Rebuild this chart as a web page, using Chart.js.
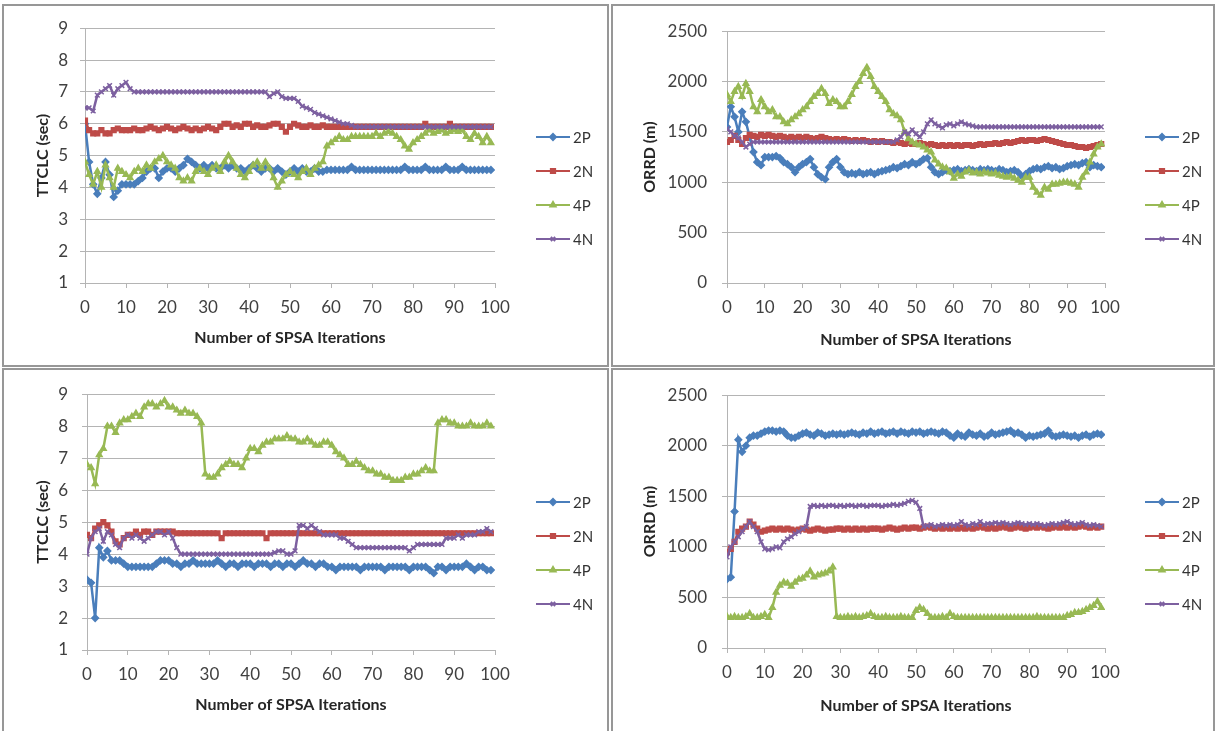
<!DOCTYPE html>
<html>
<head>
<meta charset="utf-8">
<script src="https://cdn.jsdelivr.net/npm/chart.js@4.4.1/dist/chart.umd.min.js"></script>
<style>
  body { margin: 0; background: #fff; width: 1217px; height: 731px; position: relative; overflow: hidden; }
  .frame { position: absolute; border: 2px solid #979797; box-sizing: border-box; }
  .box { position: absolute; }
</style>
</head>
<body>
<div class="frame" style="left:2px;top:4px;width:607px;height:363px"></div>
<div class="frame" style="left:611px;top:4px;width:604px;height:363px"></div>
<div class="frame" style="left:2px;top:368px;width:607px;height:366px"></div>
<div class="frame" style="left:611px;top:368px;width:604px;height:366px"></div>

<div class="box" style="left:4px;top:6px"><canvas id="ttclcTop" width="603" height="359"></canvas></div>
<div class="box" style="left:613px;top:6px"><canvas id="orrdTop" width="600" height="359"></canvas></div>
<div class="box" style="left:4px;top:370px"><canvas id="ttclcBottom" width="603" height="359"></canvas></div>
<div class="box" style="left:613px;top:370px"><canvas id="orrdBottom" width="600" height="359"></canvas></div>

<script>
"use strict";

// iterations 0..99
const iterations = Array.from({ length: 100 }, (_, i) => i);
const seriesNames = ["2P", "2N", "4P", "4N"];
const seriesColors = ["#4a7ebb", "#be4b48", "#98b954", "#7d60a0"];
const seriesMarkers = ["rectRot", "rect", "triangle", "crossRot"];

const xTicks = [0, 10, 20, 30, 40, 50, 60, 70, 80, 90, 100];
const ttclcTicks = [1, 2, 3, 4, 5, 6, 7, 8, 9];
const orrdTicks = [0, 500, 1000, 1500, 2000, 2500];

// top left: TTCLC
const ttclcTop2P = [
  6.0, 4.8, 4.1, 3.8, 4.3, 4.8, 4.4, 3.7, 3.9, 4.1,
  4.1, 4.1, 4.1, 4.2, 4.3, 4.5, 4.6, 4.6, 4.3, 4.5,
  4.6, 4.6, 4.5, 4.6, 4.7, 4.9, 4.8, 4.7, 4.6, 4.7,
  4.6, 4.7, 4.6, 4.6, 4.7, 4.6, 4.7, 4.6, 4.6, 4.5,
  4.6, 4.7, 4.6, 4.5, 4.6, 4.6, 4.5, 4.6, 4.5, 4.4,
  4.5, 4.6, 4.5, 4.6, 4.5, 4.5, 4.6, 4.5, 4.5, 4.55,
  4.55, 4.55, 4.55, 4.55, 4.55, 4.65, 4.55, 4.55, 4.55, 4.55,
  4.55, 4.55, 4.55, 4.55, 4.55, 4.55, 4.55, 4.55, 4.65, 4.55,
  4.55, 4.55, 4.55, 4.65, 4.55, 4.55, 4.55, 4.55, 4.65, 4.55,
  4.55, 4.55, 4.65, 4.55, 4.55, 4.55, 4.55, 4.55, 4.55, 4.55
];
const ttclcTop2N = [
  6.1, 5.8, 5.7, 5.7, 5.8, 5.7, 5.7, 5.8, 5.85, 5.8,
  5.8, 5.8, 5.85, 5.8, 5.8, 5.85, 5.9, 5.85, 5.8, 5.85,
  5.9, 5.85, 5.8, 5.85, 5.9, 5.85, 5.8, 5.85, 5.8, 5.85,
  5.9, 5.85, 5.8, 5.9, 6.0, 6.0, 5.9, 5.95, 5.9, 6.0,
  6.0, 5.9, 5.95, 5.9, 5.9, 5.95, 6.0, 6.0, 5.9, 5.75,
  5.9, 6.0, 5.95, 5.9, 5.9, 5.95, 5.9, 5.9, 5.95, 5.9,
  5.9, 5.9, 5.9, 5.9, 5.9, 5.9, 5.9, 5.9, 5.9, 5.9,
  5.9, 5.9, 5.9, 5.9, 5.9, 5.9, 5.9, 5.9, 5.9, 5.9,
  5.9, 5.9, 5.9, 6.0, 5.9, 5.9, 5.9, 5.9, 5.9, 6.0,
  5.9, 5.9, 5.9, 5.9, 5.9, 5.9, 5.9, 5.9, 5.9, 5.9
];
const ttclcTop4P = [
  4.8, 4.4, 4.1, 4.5, 4.0, 4.7, 4.3, 4.0, 4.6, 4.5,
  4.4, 4.3, 4.5, 4.6, 4.5, 4.7, 4.6, 4.8, 4.9, 5.0,
  4.8, 4.7, 4.6, 4.3, 4.2, 4.3, 4.2, 4.5, 4.6, 4.5,
  4.4, 4.6, 4.7, 4.5, 4.8, 5.0, 4.8, 4.6, 4.4, 4.3,
  4.5, 4.7, 4.8, 4.6, 4.8, 4.6, 4.3, 4.0, 4.2, 4.4,
  4.5, 4.4, 4.3, 4.5, 4.6, 4.4, 4.6, 4.7, 4.8, 5.3,
  5.4, 5.5, 5.6, 5.5, 5.5, 5.6, 5.6, 5.6, 5.6, 5.6,
  5.6, 5.7, 5.6, 5.7, 5.75, 5.7, 5.6, 5.5, 5.3, 5.2,
  5.4, 5.5, 5.6, 5.7, 5.8, 5.7, 5.75, 5.8, 5.7, 5.75,
  5.8, 5.75, 5.8, 5.6, 5.5, 5.7, 5.6, 5.4, 5.6, 5.4
];
const ttclcTop4N = [
  6.5, 6.5, 6.4, 6.9, 7.0, 7.1, 7.2, 6.9, 7.1, 7.2,
  7.3, 7.1, 7.0, 7.0, 7.0, 7.0, 7.0, 7.0, 7.0, 7.0,
  7.0, 7.0, 7.0, 7.0, 7.0, 7.0, 7.0, 7.0, 7.0, 7.0,
  7.0, 7.0, 7.0, 7.0, 7.0, 7.0, 7.0, 7.0, 7.0, 7.0,
  7.0, 7.0, 7.0, 7.0, 7.0, 6.85, 6.95, 7.0, 6.85, 6.8,
  6.8, 6.8, 6.7, 6.55, 6.5, 6.45, 6.35, 6.3, 6.25, 6.2,
  6.15, 6.1, 6.05, 6.0, 6.0, 5.95, 5.9, 5.9, 5.9, 5.9,
  5.9, 5.9, 5.9, 5.9, 5.9, 5.9, 5.9, 5.9, 5.9, 5.9,
  5.9, 5.9, 5.9, 5.9, 5.9, 5.9, 5.9, 5.9, 5.9, 5.9,
  5.9, 5.9, 5.9, 5.9, 5.9, 5.9, 5.9, 5.9, 5.9, 5.9
];

// top right: ORRD
const orrdTop2P = [
  1550, 1750, 1650, 1500, 1700, 1600, 1450, 1300, 1200, 1170,
  1250, 1250, 1250, 1260, 1240, 1200, 1180, 1150, 1100, 1150,
  1180, 1200, 1230, 1150, 1080, 1050, 1030, 1150, 1200, 1230,
  1150, 1100, 1080, 1090, 1080, 1100, 1080, 1090, 1100, 1080,
  1100, 1110, 1120, 1130, 1150, 1140, 1160, 1180, 1170, 1200,
  1180, 1200, 1230, 1240, 1150, 1100, 1080, 1100, 1120, 1110,
  1120, 1130, 1110, 1120, 1130, 1120, 1110, 1130, 1120, 1130,
  1120, 1110, 1130, 1120, 1100, 1110, 1120, 1100, 1060, 1080,
  1110, 1130, 1140, 1130, 1150, 1160, 1140, 1150, 1130, 1140,
  1160, 1170, 1180, 1170, 1190, 1200, 1150, 1170, 1160, 1150
];
const orrdTop2N = [
  1400, 1420, 1460, 1420, 1380, 1440, 1470, 1460, 1450, 1470,
  1460, 1470, 1460, 1450, 1460, 1450, 1440, 1450, 1440, 1450,
  1440, 1450, 1440, 1430, 1440, 1450, 1440, 1430, 1420, 1430,
  1420, 1430, 1420, 1410, 1420, 1410, 1420, 1410, 1400, 1410,
  1400, 1410, 1400, 1400, 1390, 1400, 1390, 1380, 1390, 1380,
  1380, 1390, 1380, 1370, 1380, 1370, 1360, 1370, 1360, 1370,
  1360, 1370, 1360, 1370, 1370, 1360, 1370, 1380, 1370, 1380,
  1380, 1390, 1380, 1390, 1400, 1390, 1400, 1410, 1420, 1410,
  1420, 1420, 1410, 1420, 1430, 1420, 1410, 1400, 1390, 1380,
  1370, 1370, 1360, 1350, 1350, 1340, 1350, 1360, 1370, 1380
];
const orrdTop4P = [
  1870, 1800, 1900, 1950, 1850, 1980, 1900, 1750, 1700, 1820,
  1750, 1700, 1720, 1650, 1650, 1600, 1580, 1620, 1650, 1680,
  1720, 1750, 1800, 1850, 1880, 1930, 1880, 1780, 1820, 1800,
  1750, 1750, 1800, 1870, 1950, 2000, 2080, 2140, 2050, 1950,
  1900, 1850, 1800, 1720, 1680, 1660, 1620, 1500, 1430, 1400,
  1380, 1370, 1350, 1320, 1300, 1220, 1180, 1150, 1140, 1100,
  1040, 1080, 1060, 1100, 1120, 1090, 1100, 1080, 1100, 1090,
  1080, 1090, 1070, 1060, 1050, 1060, 1040, 1020, 1000, 1050,
  1050, 950, 900, 870, 950, 930, 980, 980, 990, 1000,
  1000, 990, 980, 950, 1050, 1100, 1200, 1280, 1350, 1380
];
const orrdTop4N = [
  1530, 1500, 1460, 1440, 1400, 1350, 1380, 1400, 1400, 1400,
  1400, 1400, 1400, 1400, 1400, 1400, 1400, 1400, 1400, 1400,
  1400, 1400, 1400, 1400, 1400, 1400, 1400, 1400, 1400, 1400,
  1400, 1400, 1400, 1400, 1400, 1400, 1400, 1400, 1400, 1400,
  1400, 1400, 1400, 1400, 1400, 1420, 1450, 1500, 1480, 1520,
  1480, 1450, 1500, 1580, 1620, 1580, 1560, 1540, 1570, 1580,
  1560, 1580, 1600, 1580, 1570, 1560, 1550, 1550, 1550, 1550,
  1550, 1550, 1550, 1550, 1550, 1550, 1550, 1550, 1550, 1550,
  1550, 1550, 1550, 1550, 1550, 1550, 1550, 1550, 1550, 1550,
  1550, 1550, 1550, 1550, 1550, 1550, 1550, 1550, 1550, 1550
];

// bottom left: TTCLC
const ttclcBottom2P = [
  3.2, 3.1, 2.0, 4.2, 3.9, 4.1, 3.8, 3.8, 3.8, 3.7,
  3.6, 3.6, 3.6, 3.6, 3.6, 3.6, 3.6, 3.7, 3.8, 3.8,
  3.8, 3.7, 3.7, 3.6, 3.7, 3.7, 3.8, 3.7, 3.7, 3.7,
  3.7, 3.7, 3.8, 3.7, 3.6, 3.7, 3.7, 3.6, 3.7, 3.7,
  3.7, 3.6, 3.7, 3.7, 3.7, 3.6, 3.7, 3.7, 3.6, 3.7,
  3.7, 3.6, 3.7, 3.8, 3.7, 3.7, 3.6, 3.7, 3.7, 3.6,
  3.6, 3.5, 3.6, 3.6, 3.6, 3.6, 3.6, 3.5, 3.6, 3.6,
  3.6, 3.6, 3.6, 3.5, 3.6, 3.6, 3.6, 3.6, 3.6, 3.5,
  3.6, 3.6, 3.6, 3.6, 3.5, 3.4, 3.6, 3.6, 3.5, 3.6,
  3.6, 3.6, 3.6, 3.7, 3.6, 3.5, 3.6, 3.6, 3.5, 3.5
];
const ttclcBottom2N = [
  4.6, 4.5, 4.8, 4.9, 5.0, 4.9, 4.7, 4.4, 4.3, 4.5,
  4.6, 4.6, 4.7, 4.6, 4.7, 4.7, 4.6, 4.7, 4.7, 4.7,
  4.7, 4.7, 4.65, 4.65, 4.65, 4.65, 4.65, 4.65, 4.65, 4.65,
  4.65, 4.65, 4.65, 4.5, 4.65, 4.65, 4.65, 4.65, 4.65, 4.65,
  4.65, 4.65, 4.65, 4.65, 4.5, 4.65, 4.65, 4.65, 4.65, 4.65,
  4.65, 4.65, 4.65, 4.65, 4.65, 4.65, 4.65, 4.65, 4.65, 4.65,
  4.65, 4.65, 4.65, 4.65, 4.65, 4.65, 4.65, 4.65, 4.65, 4.65,
  4.65, 4.65, 4.65, 4.65, 4.65, 4.65, 4.65, 4.65, 4.65, 4.65,
  4.65, 4.65, 4.65, 4.65, 4.65, 4.65, 4.65, 4.65, 4.65, 4.65,
  4.65, 4.65, 4.65, 4.65, 4.65, 4.65, 4.65, 4.65, 4.65, 4.65
];
const ttclcBottom4P = [
  6.8, 6.7, 6.2, 7.1, 7.3, 8.0, 8.0, 7.8, 8.1, 8.2,
  8.2, 8.3, 8.4, 8.3, 8.6, 8.7, 8.7, 8.6, 8.7, 8.8,
  8.6, 8.6, 8.5, 8.4, 8.5, 8.4, 8.4, 8.3, 8.1, 6.5,
  6.4, 6.4, 6.5, 6.7, 6.8, 6.9, 6.8, 6.8, 6.7, 7.0,
  7.3, 7.3, 7.2, 7.4, 7.5, 7.5, 7.6, 7.6, 7.6, 7.7,
  7.6, 7.6, 7.5, 7.5, 7.6, 7.5, 7.4, 7.4, 7.5, 7.5,
  7.4, 7.2, 7.1, 7.0, 6.8, 6.8, 6.9, 6.8, 6.7, 6.6,
  6.6, 6.5, 6.5, 6.4, 6.4, 6.3, 6.3, 6.3, 6.4, 6.4,
  6.5, 6.5, 6.6, 6.7, 6.6, 6.6, 8.1, 8.2, 8.2, 8.1,
  8.1, 8.0, 8.0, 8.0, 8.1, 8.0, 8.0, 8.0, 8.1, 8.0
];
const ttclcBottom4N = [
  4.0, 4.5, 4.7, 4.8, 4.4, 4.7, 4.6, 4.3, 4.2, 4.5,
  4.6, 4.5, 4.6, 4.5, 4.4, 4.5, 4.6, 4.7, 4.7, 4.6,
  4.7, 4.5, 4.2, 4.0, 4.0, 4.0, 4.0, 4.0, 4.0, 4.0,
  4.0, 4.0, 4.0, 4.0, 4.0, 4.0, 4.0, 4.0, 4.0, 4.0,
  4.0, 4.0, 4.0, 4.0, 4.0, 4.0, 4.05, 4.1, 4.1, 4.0,
  4.0, 4.1, 4.9, 4.9, 4.8, 4.9, 4.8, 4.7, 4.6, 4.6,
  4.6, 4.6, 4.5, 4.5, 4.4, 4.3, 4.2, 4.2, 4.2, 4.2,
  4.2, 4.2, 4.2, 4.2, 4.2, 4.2, 4.2, 4.2, 4.2, 4.1,
  4.2, 4.3, 4.3, 4.3, 4.3, 4.3, 4.3, 4.3, 4.5, 4.5,
  4.5, 4.6, 4.5, 4.6, 4.6, 4.6, 4.7, 4.7, 4.8, 4.7
];

// bottom right: ORRD
const orrdBottom2P = [
  680, 700, 1350, 2060, 1940, 2000, 2080, 2100, 2100, 2120,
  2140, 2150, 2150, 2140, 2150, 2140, 2100, 2080, 2080, 2100,
  2120, 2130, 2110, 2100, 2130, 2120, 2100, 2110, 2120, 2110,
  2120, 2110, 2120, 2130, 2120, 2110, 2130, 2120, 2140, 2120,
  2130, 2140, 2120, 2130, 2140, 2120, 2140, 2130, 2120, 2140,
  2130, 2140, 2120, 2130, 2140, 2130, 2120, 2140, 2130, 2100,
  2080, 2120, 2100, 2090, 2130, 2110, 2100, 2120, 2090, 2100,
  2130, 2110, 2120, 2130, 2140, 2150, 2120, 2130, 2110, 2080,
  2100, 2090, 2100, 2110, 2120, 2150, 2100, 2090, 2100, 2110,
  2100, 2090, 2100, 2080, 2100, 2110, 2090, 2110, 2120, 2110
];
const orrdBottom2N = [
  950, 980, 1050, 1150, 1180, 1200, 1250, 1220, 1180, 1150,
  1160, 1170, 1180, 1170, 1180, 1170, 1180, 1170, 1160, 1170,
  1180, 1170, 1160, 1170, 1180, 1170, 1160, 1170, 1170, 1180,
  1180, 1170, 1180, 1170, 1180, 1170, 1180, 1170, 1180, 1180,
  1180, 1170, 1180, 1190, 1180, 1170, 1180, 1190, 1180, 1190,
  1190, 1180, 1190, 1200, 1190, 1180, 1190, 1180, 1190, 1180,
  1190, 1180, 1190, 1180, 1190, 1180, 1190, 1200, 1190, 1180,
  1190, 1180, 1190, 1200, 1190, 1180, 1190, 1200, 1190, 1180,
  1190, 1200, 1190, 1200, 1190, 1180, 1190, 1200, 1190, 1200,
  1190, 1200, 1190, 1200, 1210, 1200, 1190, 1200, 1190, 1200
];
const orrdBottom4P = [
  310, 300, 310, 300, 300, 310, 340, 300, 300, 310,
  330, 300, 400, 550, 620, 650, 640, 610, 650, 680,
  690, 720, 760, 700, 720, 730, 740, 760, 800, 310,
  300, 300, 310, 300, 310, 300, 310, 320, 340, 310,
  300, 300, 310, 300, 300, 300, 310, 300, 300, 300,
  370, 400, 380, 340, 300, 300, 300, 310, 300, 340,
  310, 300, 300, 300, 300, 300, 300, 300, 300, 300,
  300, 300, 300, 300, 300, 300, 300, 300, 300, 300,
  300, 300, 310, 300, 300, 300, 300, 300, 300, 300,
  320, 330, 350, 350, 360, 380, 400, 420, 460, 400
];
const orrdBottom4N = [
  900, 1000, 1050, 1100, 1150, 1200, 1250, 1200, 1150, 1050,
  980, 970, 980, 1000, 990, 1050, 1080, 1100, 1130, 1150,
  1180, 1200, 1400, 1410, 1400, 1410, 1400, 1410, 1410, 1400,
  1410, 1400, 1410, 1410, 1400, 1410, 1410, 1400, 1410, 1410,
  1410, 1400, 1410, 1410, 1420, 1410, 1420, 1430, 1450, 1460,
  1440, 1380, 1200, 1210, 1220, 1200, 1210, 1220, 1210, 1220,
  1210, 1220, 1250, 1220, 1210, 1230, 1220, 1250, 1220, 1230,
  1230, 1240, 1230, 1240, 1230, 1220, 1230, 1240, 1230, 1220,
  1230, 1220, 1230, 1220, 1210, 1220, 1230, 1220, 1230, 1240,
  1250, 1230, 1220, 1230, 1240, 1220, 1210, 1220, 1210, 1200
];

const FONT = "Lato, 'Open Sans', sans-serif";
const GRID = "#b4b4b4";

// draws the Excel style legend: short line with a marker, then the name
const lineLegend = {
  id: "lineLegend",
  afterDraw(chart, args, opts) {
    const ctx = chart.ctx;
    ctx.save();
    chart.data.datasets.forEach((ds, i) => {
      const y = opts.top + i * opts.gap;
      ctx.strokeStyle = ds.borderColor;
      ctx.lineWidth = 2;
      ctx.beginPath();
      ctx.moveTo(opts.left, y);
      ctx.lineTo(opts.left + 34, y);
      ctx.stroke();
      ctx.fillStyle = ds.borderColor;
      Chart.helpers.drawPoint(ctx, {
        pointStyle: ds.pointStyle,
        radius: 3,
        rotation: 0,
        borderWidth: 1
      }, opts.left + 17, y);
      ctx.fillStyle = "#333";
      ctx.font = "15px " + FONT;
      ctx.textBaseline = "middle";
      ctx.textAlign = "left";
      ctx.fillText(ds.label, opts.left + 37, y + 1);
    });
    ctx.restore();
  }
};

function getDataSets(seriesList) {
  return seriesList.map((values, i) => ({
    label: seriesNames[i],
    data: iterations.map((x, j) => ({ x: x, y: values[j] })),
    borderColor: seriesColors[i],
    backgroundColor: seriesColors[i],
    pointStyle: seriesMarkers[i],
    pointRadius: 3.3,
    pointBorderWidth: 1.5,
    borderWidth: 2.5,
    tension: 0,
    showLine: true,
    order: 4 - i
  }));
}

function makeChart(id, seriesList, yTicks, yTitle, layout) {
  const ctx = document.getElementById(id).getContext("2d");
  return new Chart(ctx, {
    type: "scatter",
    data: { datasets: getDataSets(seriesList) },
    options: {
      responsive: false,
      animation: false,
      events: [],
      layout: {
        padding: { top: layout.top, right: layout.right, left: 0, bottom: 0 }
      },
      scales: {
        x: {
          type: "linear",
          min: xTicks[0],
          max: xTicks[xTicks.length - 1],
          afterFit: (scale) => { scale.height = layout.xHeight; },
          afterBuildTicks: (scale) => { scale.ticks = xTicks.map((v) => ({ value: v })); },
          ticks: {
            color: "#404040",
            font: { family: FONT, size: 17 },
            padding: 9,
            maxRotation: 0,
            callback: (v) => String(v)
          },
          grid: {
            drawOnChartArea: false,
            tickLength: 5,
            color: GRID
          },
          border: { color: GRID },
          title: {
            display: true,
            text: "Number of SPSA Iterations",
            color: "#262626",
            font: { family: FONT, size: 16, weight: "bold" },
            padding: { top: 0, bottom: layout.xTitlePad }
          }
        },
        y: {
          min: yTicks[0],
          max: yTicks[yTicks.length - 1],
          afterFit: (scale) => { scale.width = layout.yWidth; },
          afterBuildTicks: (scale) => { scale.ticks = yTicks.map((v) => ({ value: v })); },
          ticks: {
            color: "#404040",
            font: { family: FONT, size: 17 },
            padding: layout.yTickPad,
            callback: (v) => String(v)
          },
          grid: { color: GRID, tickLength: 5 },
          border: { color: GRID },
          title: {
            display: true,
            text: yTitle,
            color: "#262626",
            font: { family: FONT, size: 16, weight: "bold" },
            padding: { top: layout.yTitlePad, bottom: 0 }
          }
        }
      },
      plugins: {
        legend: { display: false },
        tooltip: { enabled: false },
        lineLegend: { left: layout.legendLeft, top: layout.legendTop, gap: 34 }
      }
    },
    plugins: [lineLegend]
  });
}

makeChart("ttclcTop", [ttclcTop2P, ttclcTop2N, ttclcTop4P, ttclcTop4N], ttclcTicks, "TTCLC (sec)",
  { top: 20, right: 112, xHeight: 82, yWidth: 81, yTickPad: 12, yTitlePad: 29, xTitlePad: 18, legendLeft: 532, legendTop: 131 });
makeChart("orrdTop", [orrdTop2P, orrdTop2N, orrdTop4P, orrdTop4N], orrdTicks, "ORRD (m)",
  { top: 19, right: 108, xHeight: 82, yWidth: 114, yTickPad: 15, yTitlePad: 27, xTitlePad: 16, legendLeft: 532, legendTop: 131 });
makeChart("ttclcBottom", [ttclcBottom2P, ttclcBottom2N, ttclcBottom4P, ttclcBottom4N], ttclcTicks, "TTCLC (sec)",
  { top: 22, right: 112, xHeight: 79, yWidth: 83, yTickPad: 14, yTitlePad: 29, xTitlePad: 15, legendLeft: 532, legendTop: 132 });
makeChart("orrdBottom", [orrdBottom2P, orrdBottom2N, orrdBottom4P, orrdBottom4N], orrdTicks, "ORRD (m)",
  { top: 22, right: 108, xHeight: 81, yWidth: 114, yTickPad: 15, yTitlePad: 27, xTitlePad: 14, legendLeft: 532, legendTop: 132 });
</script>
</body>
</html>
